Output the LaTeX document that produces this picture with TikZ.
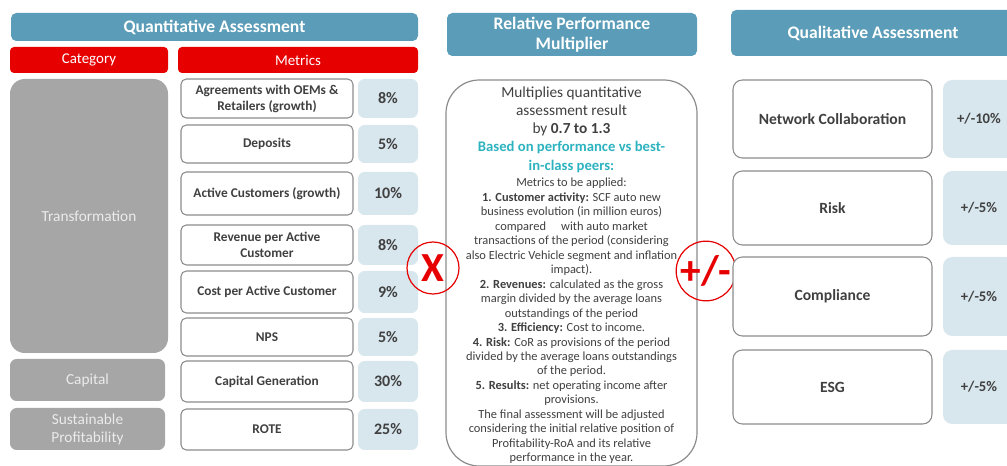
\documentclass[tikz,border=0pt]{standalone}
\usepackage{fontspec}
\setmainfont{Carlito}
\usepackage{xcolor}
\usetikzlibrary{positioning}

\definecolor{hdrteal}{HTML}{5B9DB8}
\definecolor{catred}{HTML}{E60000}
\definecolor{catgray}{HTML}{A6A6A6}
\definecolor{pctblue}{HTML}{D8E6EE}
\definecolor{txtgray}{HTML}{404040}
\definecolor{peercyan}{HTML}{2DB3C0}
\definecolor{edgegray}{HTML}{8C8C8C}

\tikzset{
  hdr/.style={fill=hdrteal, text=white, rounded corners=4pt, inner sep=0pt, align=center,
    font=\bfseries\fontsize{13.2}{15}\selectfont},
  redhdr/.style={fill=catred, text=white, rounded corners=3pt, inner sep=0pt,
    font=\fontsize{11.2}{12}\selectfont},
  catbox/.style={fill=catgray, text=white!92!black, inner sep=0pt, align=center,
    font=\fontsize{11.5}{13.5}\selectfont},
  metric/.style={draw=edgegray, line width=0.8pt, fill=white, rounded corners=4pt, inner sep=0pt,
    align=center, text=txtgray, font=\bfseries\fontsize{10}{12}\selectfont},
  pctbox/.style={fill=pctblue, rounded corners=5pt, inner sep=0pt, text=txtgray,
    font=\bfseries\fontsize{12}{14}\selectfont},
  qualbox/.style={draw=edgegray, line width=0.8pt, fill=white, rounded corners=7pt, inner sep=0pt,
    text=txtgray, font=\bfseries\fontsize{11.7}{14}\selectfont},
  opcircle/.style={circle, draw=catred, line width=0.9pt, inner sep=0pt, text=catred,
    font=\bfseries\fontsize{31}{31}\selectfont},
  multtext/.style={inner sep=0pt, align=center, text=txtgray},
}

\begin{document}
\begin{tikzpicture}[x=0.75pt,y=-0.75pt,line join=round]

% page area in pixels of the original
\useasboundingbox (0,0) rectangle (1007,466);
\clip (0,0) rectangle (1007,466);

% headers
\node[hdr, minimum width=407*0.75pt, minimum height=28*0.75pt] (quanthdr) at (214.5,27) {Quantitative Assessment};
\node[hdr, minimum width=250*0.75pt, minimum height=43*0.75pt] (rpmhdr) at (572,34.5) {Relative Performance\\Multiplier};
\node[hdr, minimum width=284*0.75pt, minimum height=46*0.75pt] (qualhdr) at (873,33) {Qualitative Assessment};

\node[redhdr, minimum width=158*0.75pt, minimum height=26*0.75pt] (cathdr) at (89,60) {Category};
\node[redhdr, minimum width=240*0.75pt, minimum height=26*0.75pt] (methdr) at (298,60) {Metrics};

% categories
\node[catbox, rounded corners=11pt, minimum width=158*0.75pt, minimum height=274*0.75pt] (transf) at (89,216) {Transformation};
\node[catbox, rounded corners=5pt, minimum width=155*0.75pt, minimum height=42*0.75pt] (capital) at (87.5,380) {Capital};
\node[catbox, rounded corners=5pt, minimum width=155*0.75pt, minimum height=42*0.75pt] (sustprof) at (87.5,429) {Sustainable\\Profitability};

% metrics and weights
\foreach \nm/\yt/\yb/\txt/\pct in {
  agr/79/118/{Agreements with OEMs \&\\Retailers (growth)}/8,
  dep/125/163/{Deposits}/5,
  act/172/215/{Active Customers (growth)}/10,
  rev/225/265/{Revenue per Active\\Customer}/8,
  cost/271/313/{Cost per Active Customer}/9,
  nps/318/356/{NPS}/5,
  capgen/361/402/{Capital Generation}/30,
  rote/409/450/{ROTE}/25}{
  \node[metric, minimum width=172*0.75pt, minimum height={(\yb-\yt)*0.75pt}] (\nm) at (267,{(\yt+\yb)/2}) {\txt};
  \node[pctbox, minimum width=60*0.75pt, minimum height={(\yb-\yt)*0.75pt}] (\nm-w) at (388,{(\yt+\yb)/2}) {\pct\%};
}

% multiplier box and its text
\node[draw=edgegray, line width=0.9pt, fill=white, rounded corners=25pt, minimum width=251*0.75pt, minimum height=386*0.75pt] (mult) at (571.5,273) {};

\node[multtext, anchor=north, font=\fontsize{11.5}{13.6}\selectfont] (multtop) at ([yshift=-5.5pt]mult.north)
  {Multiplies quantitative\\assessment result\\by \textbf{0.7 to 1.3}};
\node[multtext, below=3.5pt of multtop, text=peercyan, font=\bfseries\fontsize{11}{14.2}\selectfont] (multpeer)
  {Based on performance vs best-\\in-class peers:};
\node[multtext, below=3.5pt of multpeer, font=\fontsize{9.3}{10.85}\selectfont] (multlist)
  {Metrics to be applied:\\
   \textbf{1. Customer activity:} SCF auto new\\
   business evolution (in million euros)\\
   compared \quad with auto market\\
   transactions of the period (considering\\
   also Electric Vehicle segment and inflation\\
   impact).\\
   \textbf{2. Revenues:} calculated as the gross\\
   margin divided by the average loans\\
   outstandings of the period\\
   \textbf{3. Efficiency:} Cost to income.\\
   \textbf{4. Risk:} CoR as provisions of the period\\
   divided by the average loans outstandings\\
   of the period.\\
   \textbf{5. Results:} net operating income after\\
   provisions.\\
   The final assessment will be adjusted\\
   considering the initial relative position of\\
   Profitability-RoA and its relative\\
   performance in the year.};

% operators
\node[opcircle, minimum size=52*0.75pt] (times) at (433,268) {X};
\node[opcircle, minimum size=58*0.75pt] (plusminus) at (706,271) {+/-};

% qualitative items
\foreach \nm/\yt/\yb/\txt/\pct in {
  netcol/80/158/{Network Collaboration}/10,
  risk/171/245/{Risk}/5,
  compl/257/336/{Compliance}/5,
  esg/350/424/{ESG}/5}{
  \node[qualbox, minimum width=199*0.75pt, minimum height={(\yb-\yt)*0.75pt}] (\nm) at (832.5,{(\yt+\yb)/2}) {\txt};
  \node[pctbox, rounded corners=7pt, font=\bfseries\fontsize{11}{13}\selectfont, minimum width=72*0.75pt, minimum height={(\yb-\yt)*0.75pt}] (\nm-w) at (979,{(\yt+\yb)/2}) {+/-\pct\%};
}

\end{tikzpicture}
\end{document}
